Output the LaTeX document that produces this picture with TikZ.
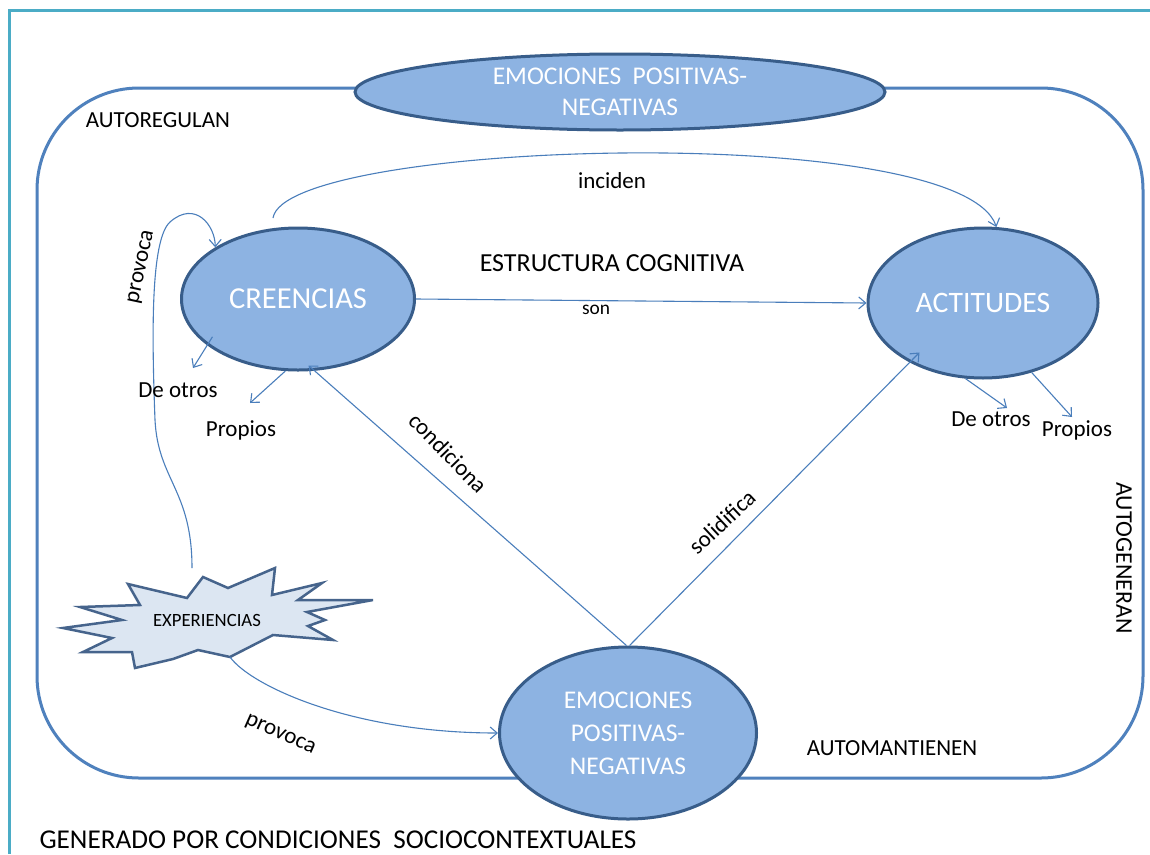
\documentclass[tikz,border=0pt]{standalone}
\usepackage{fontspec}
\setmainfont{Carlito}
\usetikzlibrary{arrows.meta,shapes.geometric}
\definecolor{framecol}{HTML}{4F81BD}
\definecolor{tealcol}{HTML}{4BACC6}
\definecolor{ellfill}{HTML}{8DB3E2}
\definecolor{ellline}{HTML}{385D8A}
\definecolor{linkcol}{HTML}{4A7EBB}
\definecolor{starfill}{HTML}{DCE6F2}
\definecolor{starline}{HTML}{46648C}
\begin{document}
\begin{tikzpicture}[x=1pt,y=-1pt,
  concept/.style={ellipse, draw=ellline, fill=ellfill, line width=3pt,
    inner sep=0pt, text=white, align=center},
  link/.style={draw=linkcol, line width=1.1pt,
    -{Straight Barb[length=7pt,width=12pt]}},
  lbl/.style={text=black, inner sep=0pt},
  fA/.style={font=\fontsize{23}{27}\selectfont},
]
\useasboundingbox (0,0) rectangle (1150,854);
\fill[white] (0,0) rectangle (1150,854);

% page frame
\draw[tealcol, line width=3pt] (9,854) -- (9,10) -- (1150,10);

% rounded enclosure
\draw[framecol, line width=3pt, rounded corners=102pt] (37,88) rectangle (1143,778);

% concept ellipses
\node[concept, minimum width=530pt, minimum height=76pt,
  font=\fontsize{25.5}{31}\selectfont] (emotop) at (620,92)
  {EMOCIONES\ \ POSITIVAS-\\NEGATIVAS};
\node[concept, minimum width=233pt, minimum height=142pt,
  font=\fontsize{30.5}{36}\selectfont] (creencias) at (298,299) {CREENCIAS};
\node[concept, minimum width=230pt, minimum height=150pt,
  font=\fontsize{29.7}{36}\selectfont] (actitudes) at (983,303) {ACTITUDES};
\node[concept, minimum width=257pt, minimum height=172pt,
  font=\fontsize{25.5}{33}\selectfont] (emobot) at (628,733)
  {EMOCIONES\\POSITIVAS-\\NEGATIVAS};

% experiences burst
\draw[starline, fill=starfill, line width=2.5pt]
  (63,628) -- (122,620) -- (80,607) -- (140,605) -- (128,584) -- (187,598)
  -- (203,577) -- (228,588) -- (275,568) -- (272,595) -- (322,583)
  -- (298,600) -- (373,600) -- (307,612) -- (325,620) -- (308,626)
  -- (333,640) -- (273,635) -- (230,657) -- (198,650) -- (173,659)
  -- (135,668) -- (132,652) -- (83,652) -- (112,638) -- cycle;
\node[lbl, font=\fontsize{18.7}{22}\selectfont] (exper) at (207,620) {EXPERIENCIAS};
\coordinate (expTop) at (192,568);
\coordinate (expBot) at (230,657);

% free ends of the small arrows
\coordinate (cDeTip) at (193,368);
\coordinate (cPrTip) at (250,403);
\coordinate (aDeTip) at (1007,408);
\coordinate (aPrTip) at (1072,417);
\coordinate (incStart) at (273,218);

% connectors
\draw[link] (creencias.east) -- (actitudes.west);
\draw[link] (incStart) .. controls (285,140) and (960,120) .. (actitudes.80);
\draw[link, shorten >=-8pt] (emobot.91) -- (creencias.-77);
\draw[link, shorten >=-14pt] (emobot.89) -- (actitudes.-141);
\draw[link, shorten <=-10pt] (creencias.207) -- (cDeTip);
\draw[link] (creencias.-100) -- (cPrTip);
\draw[link] (actitudes.-103) -- (aDeTip);
\draw[link] (actitudes.-55) -- (aPrTip);
\draw[link] (expTop) .. controls (192,490) and (158,480) .. (155,420)
  .. controls (152,340) and (150,240) .. (170,222)
  .. controls (195,200) and (215,225) .. (creencias.148);
\draw[link] (expBot) .. controls (250,685) and (350,733) .. (emobot.west);

% labels
\node[lbl, fA] (autoreg) at (158,120) {AUTOREGULAN};
\node[lbl, font=\fontsize{26}{30}\selectfont] (estr) at (612,263) {ESTRUCTURA COGNITIVA};
\node[lbl, fA] (inc) at (612,181) {inciden};
\node[lbl, font=\fontsize{19.4}{23}\selectfont] (son) at (596,310) {son};
\node[lbl, fA] (deoL) at (178,390) {De otros};
\node[lbl, fA] (propL) at (241,430) {Propios};
\node[lbl, fA] (deoR) at (991,419) {De otros};
\node[lbl, fA] (propR) at (1077,430) {Propios};
\node[lbl, fA, rotate=-46] (cond) at (448,453) {condiciona};
\node[lbl, fA, rotate=43] (solid) at (722,522) {solidifica};
\node[lbl, fA, rotate=78] (provL) at (142,267) {provoca};
\node[lbl, fA, rotate=-24] (provB) at (280,735) {provoca};
\node[lbl, fA] (automan) at (892,748) {AUTOMANTIENEN};
\node[lbl, font=\fontsize{23.9}{28}\selectfont, rotate=-90] (autogen) at (1124,558) {AUTOGENERAN};
\node[lbl, font=\fontsize{27.2}{31}\selectfont] (gen) at (338,840)
  {GENERADO POR CONDICIONES\ \ SOCIOCONTEXTUALES};
\end{tikzpicture}
\end{document}
